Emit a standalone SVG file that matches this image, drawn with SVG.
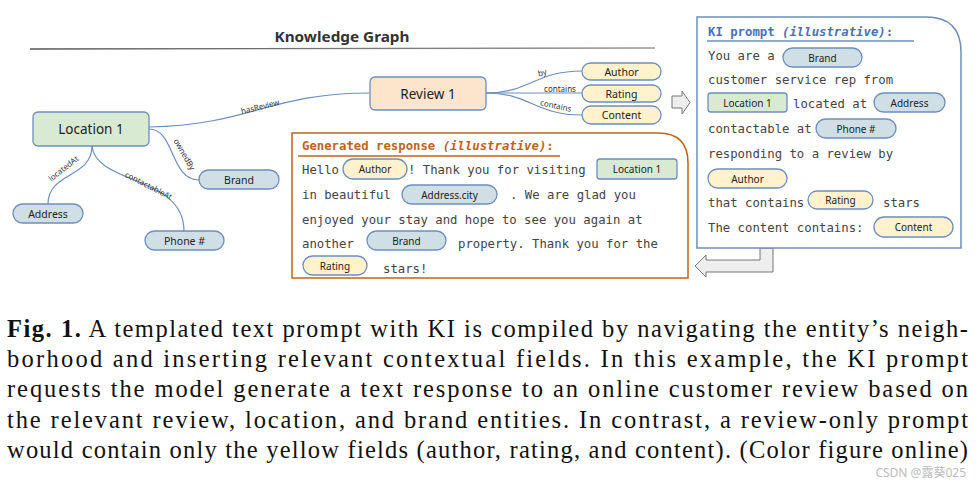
<svg xmlns="http://www.w3.org/2000/svg" width="978" height="480" viewBox="0 0 978 480">
<defs>
<linearGradient id="ug" x1="0" x2="1" y1="0" y2="0"><stop offset="0" stop-color="#555"/><stop offset="1" stop-color="#999"/></linearGradient>
</defs>
<style>
.bg{fill:#fff}
.n{stroke:#6c8ebf;stroke-width:1.3}
.g{fill:#d9ead3}.p{fill:#fce5cd}.b{fill:#d0dee6}.y{fill:#fff2cc}
.nt{font-family:"Noto Sans",sans-serif;fill:#222;text-anchor:middle;dominant-baseline:central}
.big{font-size:13.5px}.sm{font-size:10.5px}.xs{font-size:10px}
.e{fill:none;stroke:#6c8ebf;stroke-width:1.2}
.el{font-family:"Noto Sans",sans-serif;font-size:8px;fill:#333;text-anchor:middle;dominant-baseline:central}
.mono{font-family:"DejaVu Sans Mono",monospace;font-size:12.3px;fill:#444}
.arr{fill:#eee;stroke:#777;stroke-width:1}
.cap{font-family:"Liberation Serif",serif;font-size:24.5px;fill:#111}
</style>
<rect class="bg" width="978" height="480"/>
<text x="342" y="42" font-family="Noto Sans,sans-serif" font-size="15" font-weight="700" fill="#333" text-anchor="middle" textLength="135" lengthAdjust="spacingAndGlyphs">Knowledge Graph</text>
<line x1="30" y1="49" x2="655" y2="48" stroke="url(#ug)" stroke-width="1.3"/>
<g id="connectors">
<path class="e" d="M149,127 C250,125 270,93 370,93"/>
<path class="e" d="M149,129 C175,129 170,180 199,180"/>
<path class="e" d="M92,146 C92,178 48,172 48,204"/>
<path class="e" d="M92,146 C96,185 184,175 184,231"/>
<path class="e" d="M486,93 C530,93 535,71 582,71"/>
<path class="e" d="M486,93 L582,93"/>
<path class="e" d="M486,93 C530,93 535,115 582,115"/>
<text class="el" transform="translate(260,106) rotate(-14)">hasReview</text>
<text class="el" transform="translate(185,154) rotate(60)">ownedBy</text>
<text class="el" transform="translate(63,168) rotate(-38)">locatedAt</text>
<text class="el" transform="translate(149,185) rotate(27)">contactableAt</text>
<text class="el" transform="translate(542,72) rotate(-15)">by</text>
<text class="el" transform="translate(560,88)">contains</text>
<text class="el" transform="translate(556,105) rotate(12)">contains</text>
</g>
<g id="location1"><rect class="n g" x="33" y="112" width="116" height="34" rx="5"/><text class="nt big" x="91" y="129">Location 1</text></g>
<g id="review1"><rect class="n p" x="370" y="77" width="116" height="33" rx="5"/><text class="nt big" x="428" y="93.5">Review 1</text></g>
<g id="brand"><rect class="n b" x="199" y="170" width="80" height="19" rx="9.5"/><text class="nt sm" x="239" y="179.5">Brand</text></g>
<g id="address"><rect class="n b" x="13" y="204" width="70" height="19" rx="9.5"/><text class="nt sm" x="48" y="213.5">Address</text></g>
<g id="phone"><rect class="n b" x="145" y="231" width="79" height="19" rx="9.5"/><text class="nt sm" x="184.5" y="240.5">Phone #</text></g>
<g id="author"><rect class="n y" x="582" y="63" width="79" height="17" rx="8.5"/><text class="nt sm" x="621.5" y="71.5">Author</text></g>
<g id="rating"><rect class="n y" x="582" y="85" width="79" height="17" rx="8.5"/><text class="nt sm" x="621.5" y="93.5">Rating</text></g>
<g id="content"><rect class="n y" x="582" y="106" width="79" height="18" rx="9"/><text class="nt sm" x="621.5" y="115">Content</text></g>
<g id="arrow-right"><path class="arr" d="M672,96 L682,96 L682,91 L690,102.5 L682,114 L682,108 L672,108 Z"/></g>
<g id="arrow-back"><path class="arr" d="M695,266 L706,255 L706,260 L760,260 L760,248 L773,248 L773,272 L706,272 L706,277 Z"/></g>
<g id="ki-prompt">
<path d="M697,17 L926,17 Q961,17 961,52 L961,248 L697,248 Z" fill="#fff" stroke="#6c8ebf" stroke-width="1.5"/>
<text x="708" y="36" font-family="DejaVu Sans Mono,monospace" font-size="12.3" font-weight="700" fill="#4a6fb5">KI prompt <tspan font-style="italic">(illustrative)</tspan>:</text>
<line x1="707" y1="41" x2="914" y2="41" stroke="#6c8ebf" stroke-width="1.5"/>
<text class="mono" x="708" y="60">You are a</text>
<rect class="n b" x="783" y="48" width="79" height="19" rx="9.5"/><text class="nt xs" x="822.5" y="57.5">Brand</text>
<text class="mono" x="708" y="84">customer service rep from</text>
<rect class="n g" x="708" y="93" width="79" height="19" rx="3"/><text class="nt xs" x="747.5" y="102.5">Location 1</text>
<text class="mono" x="793" y="108">located at</text>
<rect class="n b" x="874" y="93" width="71" height="19" rx="9.5"/><text class="nt xs" x="909.5" y="102.5">Address</text>
<text class="mono" x="708" y="133">contactable at</text>
<rect class="n b" x="816" y="119" width="80" height="19" rx="9.5"/><text class="nt xs" x="856" y="128.5">Phone #</text>
<text class="mono" x="708" y="158">responding to a review by</text>
<rect class="n y" x="708" y="169" width="79" height="19" rx="9.5"/><text class="nt xs" x="747.5" y="178.5">Author</text>
<text class="mono" x="708" y="207">that contains</text>
<rect class="n y" x="808" y="191" width="65" height="18" rx="9"/><text class="nt xs" x="840.5" y="200">Rating</text>
<text class="mono" x="883" y="207">stars</text>
<text class="mono" x="708" y="232">The content contains:</text>
<rect class="n y" x="874" y="217" width="79" height="20" rx="10"/><text class="nt xs" x="913.5" y="227">Content</text>
</g>
<g id="generated-response">
<path d="M292,133 L658,133 Q688,133 688,163 L688,278 L292,278 Z" fill="#fff" stroke="#c0631a" stroke-width="1.5"/>
<text x="302" y="150" font-family="DejaVu Sans Mono,monospace" font-size="12.3" font-weight="700" fill="#c0631a">Generated response <tspan font-style="italic">(illustrative)</tspan>:</text>
<line x1="298" y1="156" x2="560" y2="156" stroke="#c0631a" stroke-width="1.5"/>
<text class="mono" x="302" y="174">Hello</text>
<rect class="n y" x="343" y="159" width="64" height="20" rx="10"/><text class="nt xs" x="375" y="169">Author</text>
<text class="mono" x="408" y="174">! Thank you for visiting</text>
<rect class="n g" x="597" y="159" width="80" height="20" rx="3"/><text class="nt xs" x="637" y="169">Location 1</text>
<text class="mono" x="302" y="199">in beautiful</text>
<rect class="n b" x="402" y="185" width="95" height="19" rx="9.5"/><text class="nt xs" x="449.5" y="194.5">Address.city</text>
<text class="mono" x="510" y="199">. We are glad you</text>
<text class="mono" x="302" y="224">enjoyed your stay and hope to see you again at</text>
<text class="mono" x="302" y="248">another</text>
<rect class="n b" x="367" y="231" width="79" height="19" rx="9.5"/><text class="nt xs" x="406.5" y="240.5">Brand</text>
<text class="mono" x="458" y="248">property. Thank you for the</text>
<rect class="n y" x="303" y="256" width="64" height="19" rx="9.5"/><text class="nt xs" x="335" y="265.5">Rating</text>
<text class="mono" x="383" y="273">stars!</text>
</g>
<g id="caption">
<text class="cap" x="7" y="337" textLength="961" lengthAdjust="spacing"><tspan font-weight="700">Fig. 1.</tspan> A templated text prompt with KI is compiled by navigating the entity’s neigh-</text>
<text class="cap" x="7" y="367" textLength="961" lengthAdjust="spacing">borhood and inserting relevant contextual fields. In this example, the KI prompt</text>
<text class="cap" x="7" y="397" textLength="961" lengthAdjust="spacing">requests the model generate a text response to an online customer review based on</text>
<text class="cap" x="7" y="428" textLength="961" lengthAdjust="spacing">the relevant review, location, and brand entities. In contrast, a review-only prompt</text>
<text class="cap" x="7" y="458" textLength="961" lengthAdjust="spacing">would contain only the yellow fields (author, rating, and content). (Color figure online)</text>
</g>
<text x="966" y="477" font-family="Noto Sans,Noto Sans CJK SC,sans-serif" font-size="12" fill="#bbb" text-anchor="end">CSDN @露葵025</text>
</svg>
